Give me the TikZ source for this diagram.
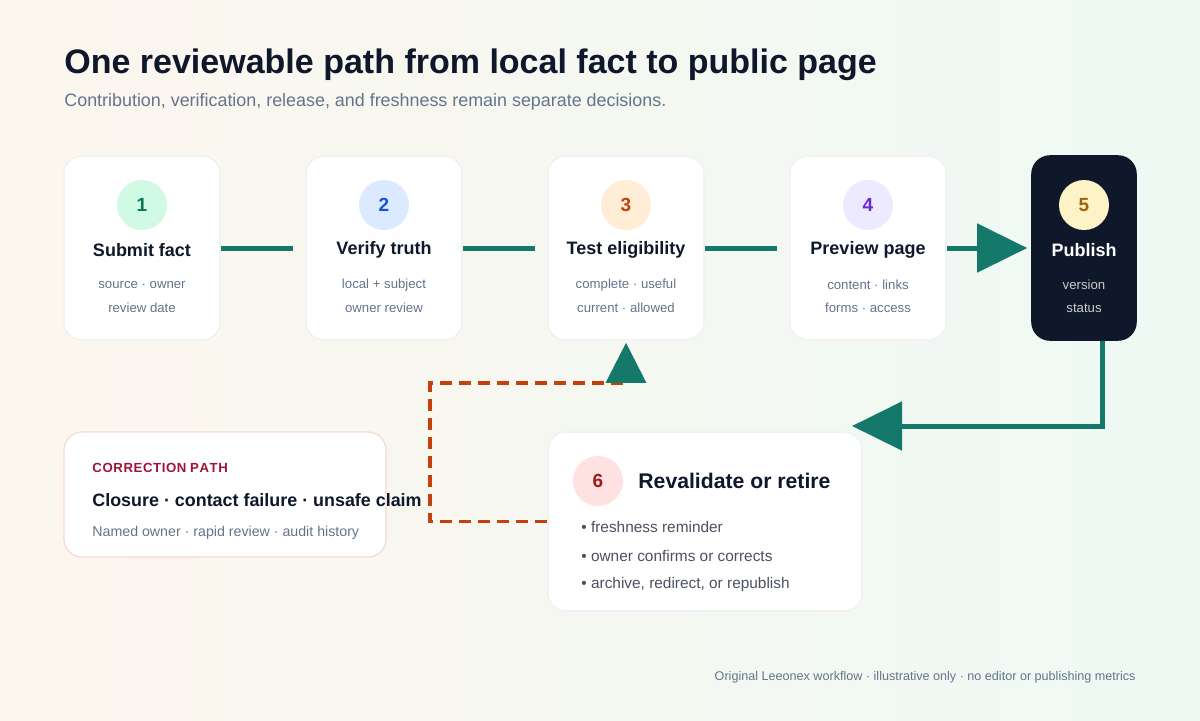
\documentclass[tikz,border=0pt]{standalone}
\usepackage{fontspec}
\setmainfont{Liberation Sans}
\usetikzlibrary{arrows.meta}
\definecolor{ink}{HTML}{0F172A}
\definecolor{muted}{HTML}{64748B}
\definecolor{teal}{HTML}{14786B}
\definecolor{rust}{HTML}{C2410C}
\definecolor{wine}{HTML}{9F1239}
\definecolor{blush}{HTML}{F8D7D7}
\definecolor{gOne}{HTML}{D1FAE5}\definecolor{tOne}{HTML}{047857}
\definecolor{gTwo}{HTML}{DBEAFE}\definecolor{tTwo}{HTML}{1D4ED8}
\definecolor{gThree}{HTML}{FFEDD5}\definecolor{tThree}{HTML}{C2410C}
\definecolor{gFour}{HTML}{EDE9FE}\definecolor{tFour}{HTML}{6D28D9}
\definecolor{gFive}{HTML}{FEF3C7}\definecolor{tFive}{HTML}{A16207}
\definecolor{gSix}{HTML}{FEE2E2}\definecolor{tSix}{HTML}{991B1B}
\definecolor{bgA}{HTML}{FCF6EE}
\definecolor{bgB}{HTML}{EEF9F4}
\tikzset{
  card/.style={fill=white, draw=black!5, line width=0.8pt, rounded corners=9pt, minimum width=78pt, minimum height=92pt,
    inner sep=0pt},
  badge/.style={circle, minimum size=25pt, inner sep=0pt, font=\bfseries\fontsize{9.5}{11}\selectfont},
  ctitle/.style={font=\bfseries\fontsize{9}{11}\selectfont, text=ink},
  csub/.style={font=\fontsize{6.6}{8}\selectfont, text=muted},
  flow/.style={draw=teal, line width=2.5pt},
  bigtip/.style={-{Triangle[length=25pt,width=24pt]}},
}
\begin{document}
\begin{tikzpicture}[x=0.5pt,y=-0.5pt]
\shade[left color=bgA, right color=bgB] (0,0) rectangle (1200,720);
\useasboundingbox (0,0) rectangle (1200,720);

% heading
\node[anchor=base west, inner sep=0pt, font=\bfseries\fontsize{17}{20}\selectfont, text=ink] (head) at (64,73) {One reviewable path from local fact to public page};
\node[anchor=base west, inner sep=0pt, font=\fontsize{8.95}{10}\selectfont, text=muted] (subhead) at (64,106) {Contribution, verification, release, and freshness remain separate decisions.};

% steps 1-4
\foreach \i/\x/\t/\a/\b/\fc/\tc in {
  1/142/Submit fact/source · owner/review date/gOne/tOne,
  2/384/Verify truth/local + subject/owner review/gTwo/tTwo,
  3/626/Test eligibility/complete · useful/current · allowed/gThree/tThree,
  4/868/Preview page/content · links/forms · access/gFour/tFour}{
  \node[card] (c\i) at (\x,248) {};
  \node[badge, fill=\fc, text=\tc] (b\i) at (\x,205) {\i};
  \node[ctitle] (t\i) at (\x,250) {\t};
  \node[csub] (sa\i) at (\x,285) {\a};
  \node[csub] (sb\i) at (\x,308) {\b};
}

% step 5
\node[card, fill=ink, draw=ink, minimum width=52pt] (c5) at (1084,248) {};
\node[badge, fill=gFive, text=tFive] (b5) at (1084,205) {5};
\node[ctitle, text=white] (t5) at (1084,250) {Publish};
\node[csub, text=gray!40] (sa5) at (1084,285) {version};
\node[csub, text=gray!40] (sb5) at (1084,308) {status};

% step 6
\node[card, minimum width=157pt, minimum height=89.5pt] (c6) at (705,521.5) {};
\node[badge, fill=gSix, text=tSix] (b6) at (598,481) {6};
\node[anchor=west, inner sep=0pt, font=\bfseries\fontsize{10.6}{12}\selectfont, text=ink] (t6) at (638,481) {Revalidate or retire};
\foreach \y/\s in {527/freshness reminder, 556/owner confirms or corrects, 585/{archive, redirect, or republish}}
  \node[anchor=west, inner sep=0pt, font=\fontsize{7.7}{9}\selectfont, text=ink!75] at (581,\y) {• \s};

% correction path
\node[draw=blush, line width=0.6pt, fill=white, rounded corners=9pt, minimum width=161pt, minimum height=62.5pt] (corr) at (225,494.5) {};
\node[anchor=base west, inner sep=0pt, font=\bfseries\fontsize{6.6}{8}\selectfont, text=wine] (ctag) at (92,472) {C\kern.3pt O\kern.3pt R\kern.3pt R\kern.3pt E\kern.3pt C\kern.3pt T\kern.3pt I\kern.3pt O\kern.3pt N\ P\kern.3pt A\kern.3pt T\kern.3pt H};
\node[anchor=base west, inner sep=0pt, font=\bfseries\fontsize{8.95}{10}\selectfont, text=ink] (cwhy) at (92,506) {Closure · contact failure · unsafe claim};
\node[anchor=base west, inner sep=0pt, font=\fontsize{7.1}{9}\selectfont, text=muted] (cwho) at (92,536) {Named owner · rapid review · audit history};

% connectors
\draw[flow, shorten >=6pt] (c1) -- (c2);
\draw[flow, shorten >=6pt] (c2) -- (c3);
\draw[flow, shorten >=6pt] (c3) -- (c4);
\draw[flow, bigtip, shorten >=2pt] (c4) -- (c5);
\coordinate (back) at (852,426);
\draw[flow, bigtip] ([xshift=9pt]c5.south) |- (back);
\coordinate (bend) at (430,383);
\draw[draw=rust, line width=1.6pt, dash pattern=on 6pt off 3.5pt, -{Triangle[length=20pt,width=20pt,fill=teal,color=teal]}]
  (c6.west) -| (bend) -- (bend -| c3.south) -- ([yshift=-1pt]c3.south);

% footer
\node[anchor=base east, inner sep=0pt, font=\fontsize{6.3}{8}\selectfont, text=muted] (foot) at (1136,680) {Original Leeonex workflow · illustrative only · no editor or publishing metrics};
\end{tikzpicture}
\end{document}
